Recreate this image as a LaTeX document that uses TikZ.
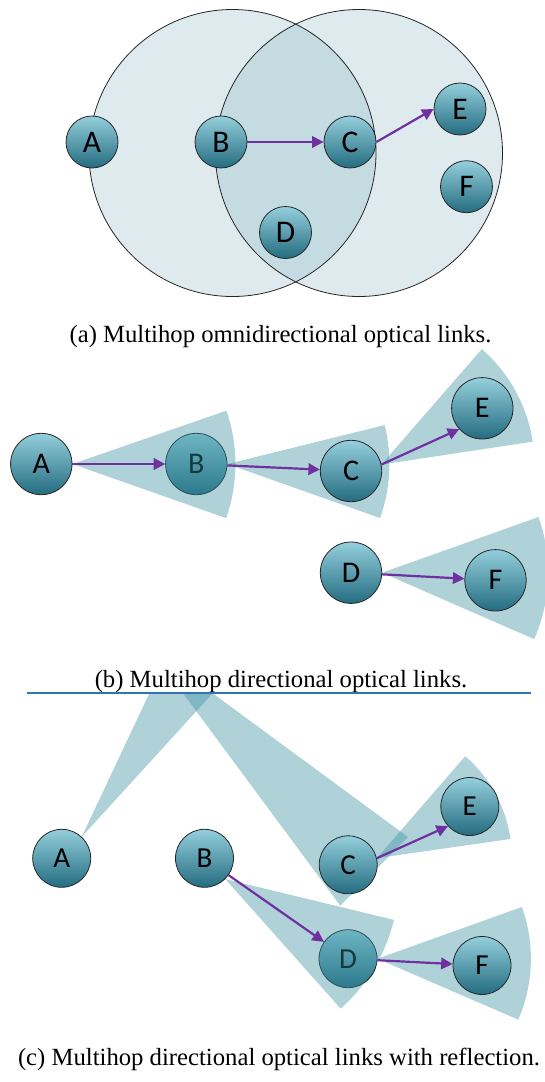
\documentclass[tikz,border=0pt]{standalone}
\usepackage{fontspec}
\setmainfont{Liberation Serif}
\newfontfamily\nodefont{Carlito}
\usetikzlibrary{arrows.meta}
\definecolor{wedgecol}{RGB}{55,143,160}
\definecolor{nodetop}{RGB}{148,207,220}
\definecolor{nodebot}{RGB}{36,108,128}
\definecolor{linkcol}{RGB}{112,48,160}
\definecolor{rangecol}{RGB}{223,234,239}
\definecolor{overlapcol}{RGB}{196,219,225}
\definecolor{sepblue}{RGB}{46,117,182}
\begin{document}
\begin{tikzpicture}[x=1pt,y=-1pt,
  station/.style={circle,draw=black!85,line width=0.8pt,top color=nodetop,bottom color=nodebot,inner sep=0pt,text=black},
  sta/.style={station,minimum size=52pt,font=\nodefont\fontsize{31.5}{31.5}\selectfont},
  stb/.style={station,minimum size=61.4pt,font=\nodefont\fontsize{30}{30}\selectfont},
  stc/.style={station,minimum size=58pt,font=\nodefont\fontsize{29}{29}\selectfont},
  beam/.style={fill=wedgecol,fill opacity=0.4},
  linkarrow/.style={draw=linkcol,line width=2.2pt,-{Triangle[length=11.5pt,width=11.5pt]}},
  rangeedge/.style={draw=black!85,line width=0.8pt},
  captext/.style={font=\fontsize{24.7}{30}\selectfont,anchor=base}]
\useasboundingbox (0,0) rectangle (544,1082);

% ---------------- (a) ----------------
\fill[rangecol] (232.5,153) circle (143.5);
\fill[rangecol] (359,153) circle (143.5);
\begin{scope}
  \clip (232.5,153) circle (143.5);
  \fill[overlapcol] (359,153) circle (143.5);
\end{scope}
\draw[rangeedge] (232.5,153) circle (143.5);
\draw[rangeedge] (359,153) circle (143.5);
\node[sta] (aA) at (92,142) {A};
\node[sta] (aB) at (221,142) {B};
\node[sta] (aC) at (350,142) {C};
\node[sta] (aD) at (285.5,232.5) {D};
\node[sta] (aE) at (460,109) {E};
\node[sta] (aF) at (466.5,186.7) {F};
\draw[linkarrow] (aB) -- (aC);
\draw[linkarrow] (aC.east) -- (aE.west);
\node[captext] (capa) at (280.5,342) {(a) Multihop omnidirectional optical links.};

% ---------------- (b) ----------------
\node[stb] (bA) at (41.3,464) {A};
\node[stb] (bB) at (196.3,464) {B};
\fill[beam] (bA.east) -- +(-19.1:163) arc[start angle=-19.1, end angle=19.4, radius=163] -- cycle;
\fill[beam] (bB.east) -- +(-13.9:162) arc[start angle=-13.9, end angle=19.5, radius=162] -- cycle;
\node[stb] (bC) at (351,471) {C};
\node[stb] (bD) at (351,572.7) {D};
\fill[beam] (bC.12) -- +(-49:153) arc[start angle=-49, end angle=-8.6, radius=153] -- cycle;
\fill[beam] (bD.east) -- +(-19.6:166) arc[start angle=-19.6, end angle=23.6, radius=166] -- cycle;
\node[stb] (bE) at (482.3,408.3) {E};
\node[stb] (bF) at (495.5,580.3) {F};
\draw[linkarrow] (bA) -- (bB);
\draw[linkarrow] (bB) -- (bC);
\draw[linkarrow] (bC.12) -- (bE.222);
\draw[linkarrow] (bD) -- (bF);
\node[captext] (capb) at (281,687) {(b) Multihop directional optical links.};

% ---------------- (c) ----------------
\coordinate (wl) at (26.7,693.3);
\coordinate (wr) at (531,693.3);
\node[stc] (cA) at (61.7,858.3) {A};
\node[stc] (cB) at (204.5,858.3) {B};
\node[stc] (cD) at (348,958.7) {D};
\fill[beam] (cA.47) -- (149.3,693.3) -- (212.7,693.3) -- cycle;
\fill[beam] (183,693.3) -- (212.7,693.3) -- (408,837) -- (340.3,905.7) -- cycle;
\fill[beam] (cB.-45) -- +(13.6:173.5) arc[start angle=13.6, end angle=48.3, radius=173.5] -- cycle;
\node[stc] (cC) at (348.2,864.8) {C};
\fill[beam] (cC.13) -- +(-49.1:135) arc[start angle=-49.1, end angle=-8.2, radius=135] -- cycle;
\fill[beam] (cD.east) -- +(-19.7:153.5) arc[start angle=-19.7, end angle=23.4, radius=153.5] -- cycle;
\node[stc] (cE) at (469.8,806.5) {E};
\node[stc] (cF) at (482,965.5) {F};
\draw[linkarrow] (cB) -- (cD);
\draw[linkarrow] (cC.13) -- (cE.222);
\draw[linkarrow] (cD) -- (cF);
\draw[sepblue,line width=1.8pt] (wl) -- (wr);
\node[captext] (capc) at (279,1065) {(c) Multihop directional optical links with reflection.};
\end{tikzpicture}
\end{document}
